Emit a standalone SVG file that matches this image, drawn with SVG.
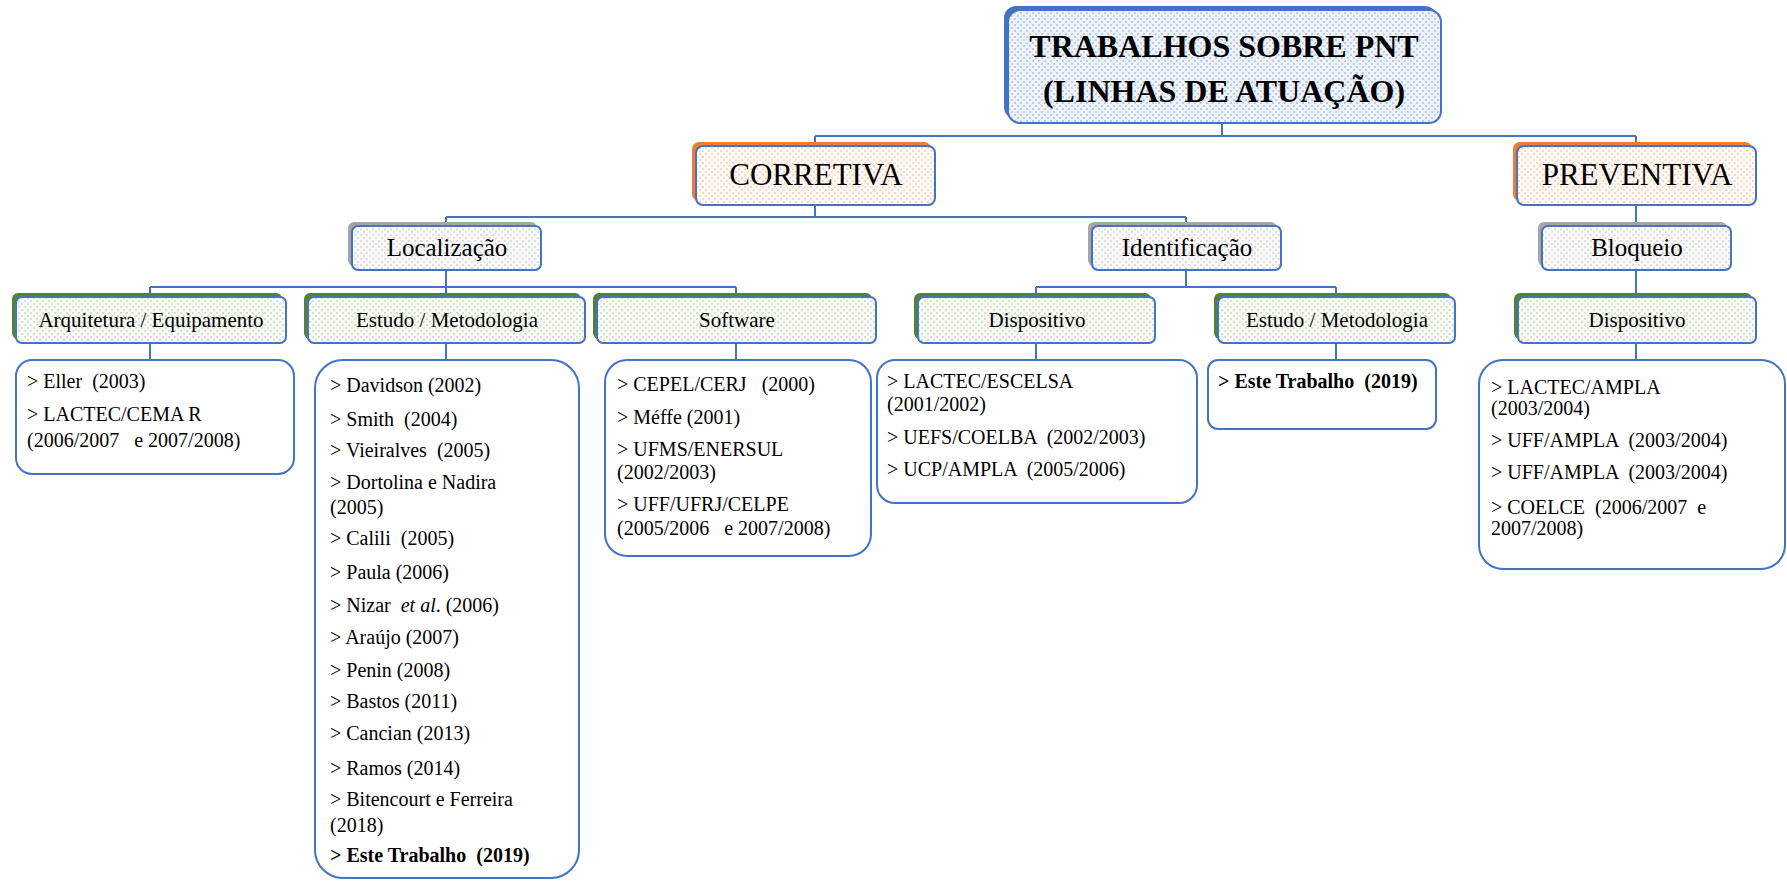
<svg xmlns="http://www.w3.org/2000/svg" width="1787" height="882" viewBox="0 0 1787 882">
  <defs>
    <!-- light textured fills for the node faces -->
    <pattern id="texBlue" width="6" height="6" patternUnits="userSpaceOnUse">
      <rect width="6" height="6" fill="#eef2fa"/>
      <path d="M0 0h2v2H0zM3 3h2v2H3z" fill="#bccde9"/>
    </pattern>
    <pattern id="texPeach" width="6" height="6" patternUnits="userSpaceOnUse">
      <rect width="6" height="6" fill="#fffaf6"/>
      <path d="M0 0h2v2H0zM3 3h2v2H3z" fill="#f8d8c3"/>
    </pattern>
    <pattern id="texGray" width="6" height="6" patternUnits="userSpaceOnUse">
      <rect width="6" height="6" fill="#fafafa"/>
      <path d="M0 0h2v2H0zM3 3h2v2H3z" fill="#dedede"/>
    </pattern>
    <pattern id="texGreen" width="6" height="6" patternUnits="userSpaceOnUse">
      <rect width="6" height="6" fill="#f9fbf7"/>
      <path d="M0 0h2v2H0zM3 3h2v2H3z" fill="#d4e2c9"/>
    </pattern>
  </defs>
  <style>
    .face { stroke: #4472c4; stroke-width: 2; }
    .back-blue { fill: #4472c4; }
    .back-orange { fill: #ed7d31; }
    .back-gray { fill: #a5a5a5; }
    .back-green { fill: #548235; }
    .list { fill: #ffffff; stroke: #4472c4; stroke-width: 2; }
    .conn { fill: none; stroke: #4472c4; stroke-width: 2; }
    text { font-family: "Liberation Serif", "Times New Roman", serif; fill: #000000; white-space: pre; }
    .t1 { font-size: 32px; font-weight: bold; text-anchor: middle; }
    .t2 { font-size: 31px; text-anchor: middle; }
    .t3 { font-size: 25px; text-anchor: middle; }
    .t4 { font-size: 21px; text-anchor: middle; }
    .t5 { font-size: 20px; }
    .b { font-weight: bold; }
  </style>

  <!-- connectors -->
  <g id="connectors" class="conn">
    <path d="M1222 123V136M815 136H1636M815 136V146M1636 136V146"/>
    <path d="M815 205V217M446 217H1186M446 217V226M1186 217V226"/>
    <path d="M1636 205V226"/>
    <path d="M446 270V287M150 287H736M150 287V297M446 287V297M736 287V297"/>
    <path d="M1186 270V287M1036 287H1336M1036 287V297M1336 287V297"/>
    <path d="M1636 270V297"/>
    <path d="M150 343V360M446 343V360M736 343V360M1036 343V360M1336 343V360M1636 343V360"/>
  </g>

  <!-- level 1 -->
  <g id="node-pnt">
    <rect class="back-blue" x="1004" y="6" width="433" height="113" rx="12"/>
    <rect class="face" x="1008" y="10" width="433" height="113" rx="12" fill="url(#texBlue)"/>
    <text class="t1" x="1224" y="57">TRABALHOS SOBRE PNT</text>
    <text class="t1" x="1224" y="102">(LINHAS DE ATUAÇÃO)</text>
  </g>

  <!-- level 2 -->
  <g id="node-corretiva">
    <rect class="back-orange" x="692" y="142" width="239" height="59" rx="7"/>
    <rect class="face" x="696" y="146" width="239" height="59" rx="7" fill="url(#texPeach)"/>
    <text class="t2" x="816" y="185">CORRETIVA</text>
  </g>
  <g id="node-preventiva">
    <rect class="back-orange" x="1513" y="142" width="239" height="59" rx="7"/>
    <rect class="face" x="1517" y="146" width="239" height="59" rx="7" fill="url(#texPeach)"/>
    <text class="t2" x="1637" y="185">PREVENTIVA</text>
  </g>

  <!-- level 3 -->
  <g id="node-localizacao">
    <rect class="back-gray" x="348" y="222" width="189" height="44" rx="6"/>
    <rect class="face" x="352" y="226" width="189" height="44" rx="6" fill="url(#texGray)"/>
    <text class="t3" x="447" y="256">Localização</text>
  </g>
  <g id="node-identificacao">
    <rect class="back-gray" x="1088" y="222" width="189" height="44" rx="6"/>
    <rect class="face" x="1092" y="226" width="189" height="44" rx="6" fill="url(#texGray)"/>
    <text class="t3" x="1187" y="256">Identificação</text>
  </g>
  <g id="node-bloqueio">
    <rect class="back-gray" x="1538" y="222" width="189" height="44" rx="6"/>
    <rect class="face" x="1542" y="226" width="189" height="44" rx="6" fill="url(#texGray)"/>
    <text class="t3" x="1637" y="256">Bloqueio</text>
  </g>

  <!-- level 4 -->
  <g id="node-arquitetura">
    <rect class="back-green" x="12" y="293" width="270" height="46" rx="6"/>
    <rect class="face" x="16" y="297" width="270" height="46" rx="6" fill="url(#texGreen)"/>
    <text class="t4" x="151" y="327">Arquitetura / Equipamento</text>
  </g>
  <g id="node-estudo-loc">
    <rect class="back-green" x="304" y="293" width="277" height="46" rx="6"/>
    <rect class="face" x="308" y="297" width="277" height="46" rx="6" fill="url(#texGreen)"/>
    <text class="t4" x="447" y="327">Estudo / Metodologia</text>
  </g>
  <g id="node-software">
    <rect class="back-green" x="593" y="293" width="279" height="46" rx="6"/>
    <rect class="face" x="597" y="297" width="279" height="46" rx="6" fill="url(#texGreen)"/>
    <text class="t4" x="737" y="327">Software</text>
  </g>
  <g id="node-dispositivo-id">
    <rect class="back-green" x="914" y="293" width="237" height="46" rx="6"/>
    <rect class="face" x="918" y="297" width="237" height="46" rx="6" fill="url(#texGreen)"/>
    <text class="t4" x="1037" y="327">Dispositivo</text>
  </g>
  <g id="node-estudo-id">
    <rect class="back-green" x="1214" y="293" width="237" height="46" rx="6"/>
    <rect class="face" x="1218" y="297" width="237" height="46" rx="6" fill="url(#texGreen)"/>
    <text class="t4" x="1337" y="327">Estudo / Metodologia</text>
  </g>
  <g id="node-dispositivo-bloq">
    <rect class="back-green" x="1514" y="293" width="238" height="46" rx="6"/>
    <rect class="face" x="1518" y="297" width="238" height="46" rx="6" fill="url(#texGreen)"/>
    <text class="t4" x="1637" y="327">Dispositivo</text>
  </g>

  <!-- level 5: reference lists -->
  <g id="list-arquitetura">
    <rect class="list" x="16" y="360" width="278" height="114" rx="16"/>
    <text class="t5" x="27" y="388">&gt; Eller  (2003)</text>
    <text class="t5" x="27" y="421">&gt; LACTEC/CEMA R</text>
    <text class="t5" x="27" y="447">(2006/2007   e 2007/2008)</text>
  </g>
  <g id="list-estudo-loc">
    <rect class="list" x="315" y="360" width="264" height="518" rx="28"/>
    <text class="t5" x="330" y="392">&gt; Davidson (2002)</text>
    <text class="t5" x="330" y="426">&gt; Smith  (2004)</text>
    <text class="t5" x="330" y="457">&gt; Vieiralves  (2005)</text>
    <text class="t5" x="330" y="489">&gt; Dortolina e Nadira</text>
    <text class="t5" x="330" y="514">(2005)</text>
    <text class="t5" x="330" y="545">&gt; Calili  (2005)</text>
    <text class="t5" x="330" y="579">&gt; Paula (2006)</text>
    <text class="t5" x="330" y="612">&gt; Nizar  <tspan font-style="italic">et al</tspan>. (2006)</text>
    <text class="t5" x="330" y="644">&gt; Araújo (2007)</text>
    <text class="t5" x="330" y="677">&gt; Penin (2008)</text>
    <text class="t5" x="330" y="708">&gt; Bastos (2011)</text>
    <text class="t5" x="330" y="740">&gt; Cancian (2013)</text>
    <text class="t5" x="330" y="775">&gt; Ramos (2014)</text>
    <text class="t5" x="330" y="806">&gt; Bitencourt e Ferreira</text>
    <text class="t5" x="330" y="832">(2018)</text>
    <text class="t5 b" x="330" y="862">&gt; Este Trabalho  (2019)</text>
  </g>
  <g id="list-software">
    <rect class="list" x="605" y="360" width="266" height="196" rx="22"/>
    <text class="t5" x="617" y="391">&gt; CEPEL/CERJ   (2000)</text>
    <text class="t5" x="617" y="424">&gt; Méffe (2001)</text>
    <text class="t5" x="617" y="456">&gt; UFMS/ENERSUL</text>
    <text class="t5" x="617" y="479">(2002/2003)</text>
    <text class="t5" x="617" y="511">&gt; UFF/UFRJ/CELPE</text>
    <text class="t5" x="617" y="535">(2005/2006   e 2007/2008)</text>
  </g>
  <g id="list-dispositivo-id">
    <rect class="list" x="877" y="360" width="320" height="143" rx="18"/>
    <text class="t5" x="887" y="388">&gt; LACTEC/ESCELSA</text>
    <text class="t5" x="887" y="411">(2001/2002)</text>
    <text class="t5" x="887" y="444">&gt; UEFS/COELBA  (2002/2003)</text>
    <text class="t5" x="887" y="476">&gt; UCP/AMPLA  (2005/2006)</text>
  </g>
  <g id="list-estudo-id">
    <rect class="list" x="1208" y="360" width="228" height="69" rx="10"/>
    <text class="t5 b" x="1218" y="388">&gt; Este Trabalho  (2019)</text>
  </g>
  <g id="list-dispositivo-bloq">
    <rect class="list" x="1479" y="360" width="306" height="209" rx="24"/>
    <text class="t5" x="1491" y="394">&gt; LACTEC/AMPLA</text>
    <text class="t5" x="1491" y="415">(2003/2004)</text>
    <text class="t5" x="1491" y="447">&gt; UFF/AMPLA  (2003/2004)</text>
    <text class="t5" x="1491" y="479">&gt; UFF/AMPLA  (2003/2004)</text>
    <text class="t5" x="1491" y="514">&gt; COELCE  (2006/2007  e</text>
    <text class="t5" x="1491" y="535">2007/2008)</text>
  </g>
</svg>
